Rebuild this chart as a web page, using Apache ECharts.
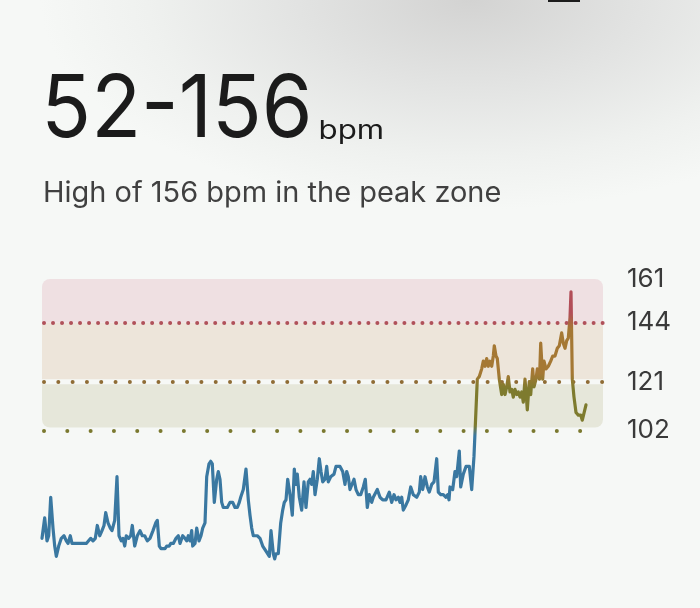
<!DOCTYPE html>
<html><head><meta charset="utf-8">
<script src="https://cdn.jsdelivr.net/npm/echarts@6/dist/echarts.min.js"></script>
<style>
html,body{margin:0;padding:0;width:700px;height:608px;overflow:hidden;
background: radial-gradient(ellipse 430px 210px at 470px 0px, #d3d3d2 0%, #e2e3e2 40%, #eff1ef 75%, #f6f8f6 100%);}
#chart{width:700px;height:608px;}
</style></head><body><div id="chart"></div>
<script>
// ---- data ----
const minutes = [
  0,2.7,5,6.7,8.7,11,12.7,14.3,16.7,19.3,
  22,24.3,26,28.3,30,44.3,48.7,51,53.3,55.3,
  57.7,60,62,63.7,66,68.3,70,72.7,75,77,
  79.3,81,82.7,84.3,86.7,88.7,90.3,92.7,95.3,98,
  100.3,102.7,105.3,108,111,113.7,115.3,117.3,119,123,
  124.7,127.3,128.7,131.3,134,136.3,138,140.7,143,144.7,
  146.3,148,149.7,150.7,153,154.7,157,159,160.7,163,
  164.7,167,168.7,170.3,172.3,174.7,176.3,178,179.7,181.3,
  185.3,188,190.7,193,195.3,197.3,198.7,201.3,204,206.3,
  208,209.7,211.3,215.3,218,220.7,224,227.3,229,231.3,
  232.7,234,236.3,238.7,240.7,242.3,244,245.7,248,250.3,
  252.3,253.7,255.3,257.3,259.7,262,264,266.3,268,269.7,
  271.3,273,275.3,277.3,279,280.7,283,284.7,286.3,288.7,
  292,294,298,300.7,303,304.7,306.3,308,310,312,
  314,316.3,318.7,321.3,323.3,325.3,327.3,329.7,331.3,335.3,
  338,340.7,344,347.3,349.7,352,354,356.3,358,359.7,
  361.3,364,366.3,368.7,371.3,374.7,377.3,378.7,380.7,383,
  385.3,387.3,389.7,392,394.7,396.3,398.7,401.3,404,405.7,
  407,408,410.7,413,414.7,417.3,418.7,421.3,424,427.3,
  429.7,432,435.3,437.3,439.7,441.3,443,444.7,446.3,448,
  449.7,451.3,452.3,454,455.3,457.3,459.7,461.3,463,464.7,
  466.3,468,469.7,471.3,473,474.7,476.3,478,479.7,481.3,
  483,484,485.3,487.3,488.7,490.7,492,494,495.3,497.5,
  498.7,500.7,502,504,506.3,508.7,510.7,513,515.3,517.3,
  519.7,521.3,523,524.7,526.3,528,529,530.3,532,534,
  536.3,538.7,540.3,542,544
];
const bpm = [
  60,68,59,61,76,64,57,53,57,60,
  61,59,58,61,58,58,60,59,60,65,
  61,63,65,70,66,64,63,67,84,61,
  59,60,57,61,60,61,65,57,61,63,
  61,61,59,60,63,66,67,57,56,56,
  57,57,58,58,60,61,58,61,60,59,
  61,59,63,57,58,64,59,61,64,66,
  84,89,90,89,74,83,86,83,74,72,
  72,74,74,72,72,74,76,79,87,75,
  69,64,61,61,60,57,55,53,63,54,
  52,54,54,66,71,74,75,83,77,69,
  87,81,85,76,71,82,72,82,83,81,
  86,77,83,91,86,82,83,88,82,84,
  85,88,88,86,81,86,84,79,79,83,
  79,77,77,80,83,72,77,74,76,79,
  76,75,75,78,74,77,75,76,74,76,
  71,73,75,80,77,76,78,84,79,84,
  80,78,81,82,91,78,77,77,76,77,
  75,80,79,86,84,94,80,85,88,88,
  79,92,122,123,126,129,127,130,127,129,
  127,131,135,131,130,122,116,120,116,119,
  123,117,118,115,118,116,117,115,117,113,
  122,117,110,121,116,126,119,122,126,122,
  136,122,129,126,127,129,131,131,134,135,
  140,136,134,137,138,146,156,122,115,109,
  108,108,106,106,112
];
const zoneLow  = [102, 121, 144];
const zoneHigh = [121, 144, 161];
const thresholds = [102, 121, 144];
const yTickLabels = [102, 121, 144, 161];
const titleRange = '52-156';
const titleUnit = 'bpm';
const subtitleText = 'High of 156 bpm in the peak zone';

// ---- styles ----
const zoneFill = ['#e6e7da', '#ede5da', '#efe0e2'];
const thresholdColor = ['#7b792f', '#8f6c35', '#b0515a'];
const thresholdGap = [23.3, 14.3, 9];

const points = minutes.map((t, i) => [t, bpm[i]]);
const vMax = Math.max(...bpm), vMin = Math.min(...bpm);
const off = v => Math.min(1, Math.max(0, (vMax - v) / (vMax - vMin)));
const lineGrad = new echarts.graphic.LinearGradient(0, 0, 0, 1, [
  {offset: 0, color: '#b24e58'},
  {offset: off(147), color: '#b24e58'},
  {offset: off(141), color: '#a57834'},
  {offset: off(124), color: '#a57834'},
  {offset: off(118), color: '#7e7b2e'},
  {offset: off(104), color: '#7e7b2e'},
  {offset: off(100), color: '#3a78a1'},
  {offset: 1, color: '#3a78a1'}
]);

// text fitting helper
const mctx = document.createElement('canvas').getContext('2d');
function fitText(text, font, inkLeft, inkWidth) {
  mctx.font = font;
  const m = mctx.measureText(text);
  const w = m.actualBoundingBoxRight + m.actualBoundingBoxLeft;
  const s = inkWidth / w;
  return {s, x: inkLeft + m.actualBoundingBoxLeft * s};
}
const FF = 'Inter';
const bigFont = '400 87px ' + FF;
const unitFont = '400 26px ' + FF;
const subFont = '400 28px ' + FF;
const fBig = fitText(titleRange, bigFont, 47, 261);
const fUnit = fitText(titleUnit, unitFont, 321, 61);
const fSub = fitText(subtitleText, subFont, 45, 455);

const chart = echarts.init(document.getElementById('chart'), null, {renderer: 'canvas'});
chart.setOption({
  animation: false,
  backgroundColor: 'transparent',
  grid: {left: 42, right: 97, top: 279, bottom: 44, containLabel: false},
  xAxis: {type: 'value', min: 0, max: 561, show: false},
  yAxis: {
    type: 'value', position: 'right', min: 50, max: 161,
    splitLine: {show: false}, axisLine: {show: false}, axisTick: {show: false},
    axisLabel: {customValues: yTickLabels, margin: 24, color: '#3a3a3a', fontSize: 26, fontFamily: FF}
  },
  graphic: [
    {type: 'rect', shape: {x: 548, y: 0, width: 32, height: 2}, style: {fill: '#1c1c1c'}},
    {type: 'text', x: fBig.x, y: 111, scaleX: fBig.s,
      style: {text: titleRange, font: bigFont, fill: '#1b1b1b', verticalAlign: 'middle', align: 'left'}},
    {type: 'text', x: fUnit.x, y: 131, scaleX: fUnit.s,
      style: {text: titleUnit, font: unitFont, fill: '#1b1b1b', verticalAlign: 'middle', align: 'left'}},
    {type: 'text', x: fSub.x, y: 194, scaleX: fSub.s,
      style: {text: subtitleText, font: subFont, fill: '#404040', verticalAlign: 'middle', align: 'left'}}
  ],
  series: [
    {
      type: 'custom', silent: true, z: 1,
      data: zoneLow.map((lo, i) => [lo, zoneHigh[i], i]),
      encode: {y: [0, 1]},
      renderItem(params, api) {
        const cs = params.coordSys;
        const i = api.value(2);
        let yTop = api.coord([0, api.value(1)])[1];
        let yBot = api.coord([0, api.value(0)])[1];
        let r = 0;
        if (i === 0) { yTop += 2.5; yBot -= 3; r = [0, 0, 8, 8]; }
        if (i === 1) { yBot -= 2.5; }
        if (i === 2) { r = [8, 8, 0, 0]; }
        return {type: 'rect', shape: {x: cs.x, y: yTop, width: cs.width, height: yBot - yTop, r},
          style: {fill: zoneFill[i]}};
      }
    },
    {
      type: 'line', data: points, showSymbol: false, z: 3, silent: true,
      lineStyle: {width: 3.2, color: lineGrad, join: 'round', cap: 'round'},
      markLine: {
        silent: true, symbol: ['none', 'none'], label: {show: false}, z: 2,
        data: thresholds.map((v, i) => ({
          yAxis: v,
          lineStyle: {color: thresholdColor[i], width: 4, type: [0.01, thresholdGap[i]], cap: 'round', dashOffset: -2}
        }))
      }
    }
  ]
});
</script></body></html>
